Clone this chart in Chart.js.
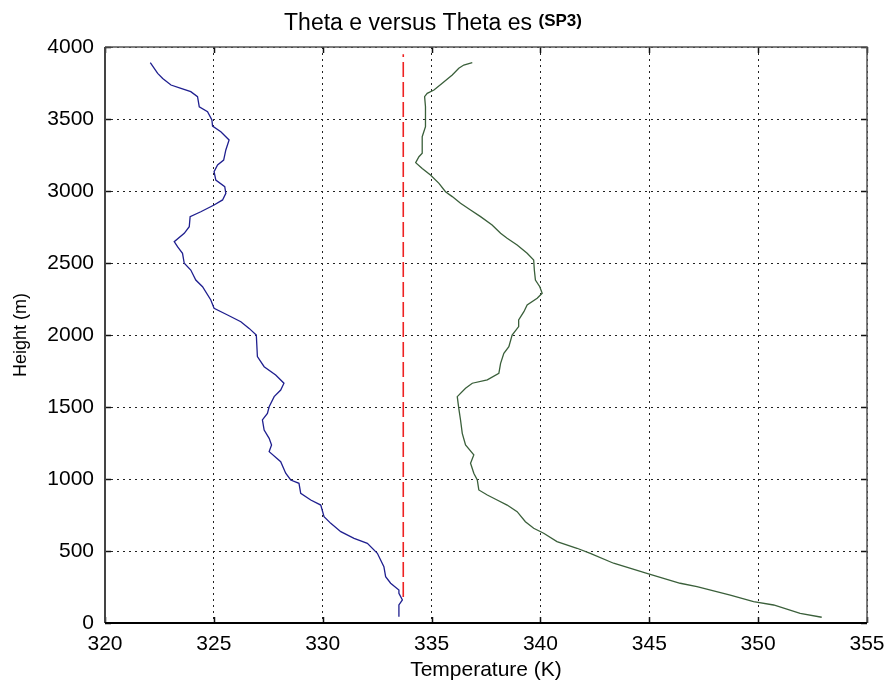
<!DOCTYPE html>
<html>
<head>
<meta charset="utf-8">
<script src="https://cdn.jsdelivr.net/npm/chart.js@4"></script>
<style>
html,body{margin:0;padding:0;background:#fff;}
canvas{display:block;}
</style>
</head>
<body>
<canvas id="c" width="885" height="683"></canvas>
<script>
// ---- data ----
const xTicks = [320, 325, 330, 335, 340, 345, 350, 355];
const yTicks = [0, 500, 1000, 1500, 2000, 2500, 3000, 3500, 4000];

const thetaEHeight = [44,125,160,206,229,276,322,391,484,553,588,634,692,738,819,854,901,970,993,1040,1120,1190,1236,1282,1340,1410,1456,1502,1572,1618,1665,1722,1780,1850,2000,2046,2092,2139,2185,2243,2335,2382,2451,2498,2567,2613,2648,2706,2752,2822,2856,2903,2938,2984,3030,3076,3134,3181,3215,3285,3354,3412,3451,3493,3551,3585,3655,3690,3713,3736,3782,3817,3891];
const thetaETemp = [333.50,333.50,333.66,333.50,333.50,333.12,332.89,332.81,332.51,332.05,331.44,330.83,330.37,330.06,329.91,329.45,328.99,328.91,328.53,328.30,328.07,327.54,327.65,327.54,327.31,327.23,327.46,327.54,327.77,328.07,328.22,327.84,327.31,327.00,326.95,326.62,326.24,325.63,325.01,324.86,324.48,324.17,323.94,323.64,323.56,323.33,323.18,323.64,323.87,323.91,324.40,325.01,325.40,325.55,325.50,325.09,325.01,325.17,325.45,325.55,325.70,325.32,324.94,324.91,324.71,324.33,324.25,323.94,323.49,323.03,322.65,322.42,322.08];

const thetaESHeight = [40,67,125,148,194,253,276,345,415,484,519,565,623,658,703,773,819,854,889,924,993,1040,1109,1167,1236,1317,1410,1491,1572,1630,1665,1688,1734,1803,1873,1919,2000,2058,2104,2162,2208,2255,2290,2335,2382,2451,2521,2567,2625,2672,2706,2764,2822,2868,2915,2961,2995,3053,3111,3157,3197,3238,3262,3377,3447,3585,3655,3678,3701,3748,3806,3852,3875,3891];
const thetaESTemp = [352.92,351.93,350.71,349.79,348.72,347.19,346.42,344.89,343.36,342.29,341.68,340.76,340.15,339.69,339.31,338.93,338.47,338.01,337.56,337.17,337.10,336.94,336.79,336.94,336.56,336.41,336.33,336.25,336.18,336.56,336.87,337.56,338.09,338.17,338.32,338.55,338.70,339.00,339.00,339.24,339.39,339.85,340.08,339.97,339.77,339.72,339.69,339.39,338.93,338.47,338.17,337.78,337.25,336.79,336.33,335.95,335.64,335.34,334.95,334.57,334.27,334.42,334.57,334.57,334.72,334.72,334.68,334.80,335.11,335.49,335.95,336.25,336.48,336.87];

const refTemp = [333.7, 333.7];
const refHeight = [180, 3950];

const titleMain = 'Theta e versus Theta es';
const titleSub = '(SP3)';
const xLabel = 'Temperature (K)';
const yLabel = 'Height (m)';

// ---- build ----
const toPts = (xs, ys) => xs.map((x, i) => ({x: x, y: ys[i]}));
const FONT = "'Liberation Sans', Arial, sans-serif";

const framePlugin = {
  id: 'frame',
  beforeDraw(chart) {
    const ctx = chart.ctx;
    ctx.save();
    ctx.fillStyle = '#fff';
    ctx.fillRect(0, 0, chart.width, chart.height);
    ctx.restore();
  },
  afterDraw(chart) {
    const ctx = chart.ctx;
    const a = chart.chartArea;
    const xs = chart.scales.x, ys = chart.scales.y;
    ctx.save();
    // inner tick marks
    ctx.strokeStyle = '#111';
    ctx.lineWidth = 1.5;
    ctx.beginPath();
    xTicks.forEach(v => {
      const p = Math.round(xs.getPixelForValue(v)) + 0.5;
      ctx.moveTo(p, a.bottom); ctx.lineTo(p, a.bottom - 6);
      ctx.moveTo(p, a.top); ctx.lineTo(p, a.top + 6);
    });
    yTicks.forEach(v => {
      const p = Math.round(ys.getPixelForValue(v)) + 0.5;
      ctx.moveTo(a.left, p); ctx.lineTo(a.left + 6, p);
      ctx.moveTo(a.right, p); ctx.lineTo(a.right - 6, p);
    });
    ctx.stroke();
    // box
    ctx.strokeStyle = '#555';
    ctx.lineWidth = 1.5;
    ctx.beginPath();
    ctx.moveTo(a.left, a.top); ctx.lineTo(a.right, a.top); ctx.lineTo(a.right, a.bottom);
    ctx.stroke();
    ctx.strokeStyle = '#444';
    ctx.lineWidth = 2;
    ctx.beginPath();
    ctx.moveTo(a.left, a.top); ctx.lineTo(a.left, a.bottom);
    ctx.stroke();
    ctx.strokeStyle = '#000';
    ctx.beginPath();
    ctx.moveTo(a.left, a.bottom); ctx.lineTo(a.right, a.bottom);
    ctx.stroke();
    // title
    ctx.fillStyle = '#000';
    ctx.textBaseline = 'alphabetic';
    ctx.textAlign = 'left';
    ctx.font = "23px " + FONT;
    const w1 = ctx.measureText(titleMain + ' ').width;
    ctx.font = "bold 17px " + FONT;
    const w2 = ctx.measureText(titleSub).width;
    const start = 433 - (w1 + w2) / 2;
    ctx.font = "23px " + FONT;
    ctx.fillText(titleMain, start, 30);
    ctx.font = "bold 17px " + FONT;
    ctx.fillText(titleSub, start + w1, 26);
    ctx.restore();
  }
};

new Chart(document.getElementById('c'), {
  type: 'scatter',
  data: {
    datasets: [
      {
        label: 'Theta e',
        data: toPts(thetaETemp, thetaEHeight),
        showLine: true,
        borderColor: '#1f1f8f',
        borderWidth: 1.3,
        pointRadius: 0,
        tension: 0
      },
      {
        label: 'Theta es',
        data: toPts(thetaESTemp, thetaESHeight),
        showLine: true,
        borderColor: '#3a5f3a',
        borderWidth: 1.3,
        pointRadius: 0,
        tension: 0
      },
      {
        label: 'ref',
        data: toPts(refTemp, refHeight),
        showLine: true,
        borderColor: '#ee2222',
        borderWidth: 1.6,
        borderDash: [15, 5],
        pointRadius: 0
      }
    ]
  },
  options: {
    responsive: false,
    animation: false,
    layout: { padding: { top: 47, right: 18, bottom: 0, left: 0 } },
    plugins: {
      legend: { display: false },
      tooltip: { enabled: false },
      title: { display: false }
    },
    scales: {
      x: {
        type: 'linear',
        min: 320, max: 355,
        afterBuildTicks: s => { s.ticks = xTicks.map(v => ({value: v})); },
        afterFit: s => { s.height = 60; s.paddingLeft = 0; s.paddingRight = 0; },
        ticks: { color: '#000', font: { family: FONT, size: 21 }, padding: 9, maxRotation: 0, callback: v => String(v) },
        grid: { color: '#222', lineWidth: 1, drawTicks: false, tickLength: 0 },
        border: { display: false, dash: [2, 4] },
        title: { display: true, text: xLabel, color: '#000', font: { family: FONT, size: 21 }, padding: { top: 0, bottom: 0 } }
      },
      y: {
        type: 'linear',
        min: 0, max: 4000,
        afterBuildTicks: s => { s.ticks = yTicks.map(v => ({value: v})); },
        afterFit: s => { s.width = 105; s.paddingTop = 0; s.paddingBottom = 0; },
        ticks: { color: '#000', font: { family: FONT, size: 21 }, padding: 11, callback: v => String(v) },
        grid: { color: '#222', lineWidth: 1, drawTicks: false, tickLength: 0 },
        border: { display: false, dash: [2, 4] },
        title: { display: true, text: yLabel, color: '#000', font: { family: FONT, size: 18 }, padding: { top: 10, bottom: 0 } }
      }
    }
  },
  plugins: [framePlugin]
});
</script>
</body>
</html>
